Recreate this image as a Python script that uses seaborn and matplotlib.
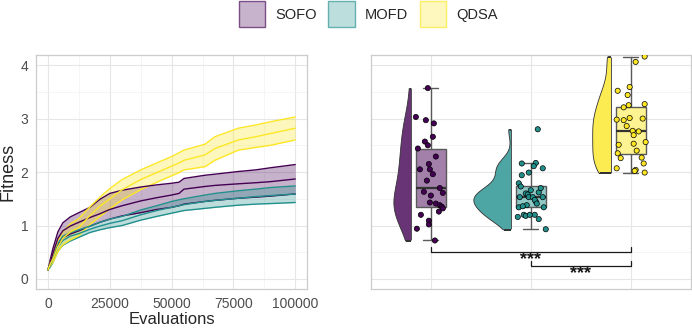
import numpy as np
import pandas as pd
import matplotlib
matplotlib.use("Agg")
import matplotlib.pyplot as plt
import matplotlib.colors as mcolors
from matplotlib.patches import Patch
from matplotlib.path import Path
from matplotlib.transforms import Affine2D
from matplotlib.ticker import MultipleLocator, NullFormatter
import seaborn as sns

methods = ["SOFO", "MOFD", "QDSA"]
colors = ["#440154", "#21908C", "#FDE725"]

# convergence curves (mean and ribbon bounds)
evals = [0, 1000, 2000, 4000, 6000, 9000, 12500, 17000, 21000, 25000, 30000,
         37500, 44000, 50000, 53000, 55000, 63500, 67500, 77000, 84000, 90000, 100000]
sofo_mean = [0.17, 0.33, 0.48, 0.76, 0.90, 0.99, 1.06, 1.15, 1.22, 1.30, 1.37,
             1.46, 1.52, 1.57, 1.60, 1.68, 1.73, 1.75, 1.78, 1.80, 1.82, 1.87]
sofo_lo = [0.17, 0.29, 0.40, 0.64, 0.77, 0.84, 0.90, 0.99, 1.06, 1.12, 1.18,
           1.24, 1.30, 1.34, 1.37, 1.40, 1.45, 1.47, 1.51, 1.53, 1.55, 1.59]
sofo_hi = [0.17, 0.38, 0.57, 0.88, 1.05, 1.16, 1.24, 1.34, 1.49, 1.60, 1.66,
           1.72, 1.76, 1.79, 1.81, 1.88, 1.94, 1.96, 2.01, 2.04, 2.08, 2.14]
mofd_mean = [0.17, 0.27, 0.37, 0.60, 0.72, 0.80, 0.85, 0.93, 0.99, 1.04, 1.09,
             1.20, 1.28, 1.34, 1.37, 1.39, 1.45, 1.47, 1.51, 1.54, 1.56, 1.59]
mofd_lo = [0.17, 0.23, 0.31, 0.52, 0.63, 0.71, 0.78, 0.87, 0.92, 0.96, 1.00,
           1.10, 1.17, 1.23, 1.26, 1.28, 1.32, 1.34, 1.38, 1.40, 1.41, 1.43]
mofd_hi = [0.17, 0.30, 0.43, 0.67, 0.80, 0.87, 0.92, 0.99, 1.06, 1.12, 1.17,
           1.29, 1.37, 1.45, 1.48, 1.50, 1.57, 1.60, 1.65, 1.68, 1.71, 1.74]
qdsa_mean = [0.17, 0.29, 0.37, 0.60, 0.76, 0.88, 0.96, 1.19, 1.36, 1.50, 1.67,
             1.86, 1.99, 2.11, 2.17, 2.22, 2.32, 2.44, 2.60, 2.66, 2.72, 2.82]
qdsa_lo = [0.17, 0.25, 0.31, 0.51, 0.64, 0.73, 0.81, 1.02, 1.17, 1.31, 1.48,
           1.67, 1.81, 1.93, 1.99, 2.04, 2.10, 2.22, 2.41, 2.46, 2.50, 2.60]
qdsa_hi = [0.17, 0.33, 0.46, 0.72, 0.88, 1.03, 1.13, 1.35, 1.53, 1.69, 1.86,
           2.04, 2.17, 2.29, 2.36, 2.41, 2.52, 2.66, 2.82, 2.88, 2.94, 3.03]

# final fitness per run, with the horizontal jitter seen in the picture
sofo_final = [3.57, 3.03, 2.97, 2.91, 2.66, 2.57, 2.50, 2.44, 2.29, 2.15, 2.05, 2.05,
              1.96, 1.84, 1.70, 1.63, 1.61, 1.56, 1.43, 1.41, 1.38, 1.35, 1.32, 1.26,
              1.20, 1.09, 1.02, 0.94, 0.72]
sofo_jit = [-0.03, -0.15, -0.05, 0.03, 0.02, -0.06, -0.03, -0.13, 0.05, -0.02, -0.11, -0.01,
            0.02, -0.04, 0.09, -0.07, 0.12, 0.00, -0.01, 0.05, 0.09, 0.11, 0.12, 0.08,
            -0.10, -0.02, -0.02, -0.14, 0.04]
mofd_final = [2.80, 2.16, 2.17, 2.11, 2.07, 1.94, 1.99, 1.79, 1.60, 1.58, 1.53, 1.53,
              1.53, 1.53, 1.45, 1.34, 1.34, 1.48, 1.16, 1.20, 1.18, 1.20, 1.20, 1.12,
              0.93, 1.73, 1.62, 1.66, 1.70, 1.38, 1.41, 1.36]
mofd_jit = [0.07, -0.09, 0.05, 0.03, 0.12, -0.09, -0.02, -0.12, -0.05, -0.03, -0.11, -0.02,
            0.02, 0.12, 0.05, -0.12, 0.13, 0.04, -0.13, -0.07, -0.05, -0.01, 0.04, 0.08,
            0.15, -0.10, 0.08, 0.00, 0.10, -0.04, 0.06, -0.08]
qdsa_final = [4.16, 4.06, 3.59, 3.52, 3.44, 3.21, 3.25, 3.27, 2.98, 2.97, 3.01, 3.00,
              2.86, 2.77, 2.76, 2.69, 2.56, 2.53, 2.51, 2.35, 2.40, 2.27, 2.26, 2.16,
              2.07, 2.04, 2.02, 1.99]
qdsa_jit = [0.14, 0.05, -0.01, -0.13, -0.03, -0.07, -0.02, 0.14, -0.14, -0.07, -0.01, 0.12,
            -0.04, 0.02, 0.08, 0.03, 0.15, 0.03, -0.12, -0.13, 0.06, 0.11, -0.10, 0.13,
            -0.14, 0.05, 0.04, 0.14]

# significance brackets: (from, to, label)
comparisons = [("SOFO", "QDSA", "***"), ("MOFD", "QDSA", "***")]

# full width of each half violin (twice the drawn half)
violin_widths = {"SOFO": 0.35, "MOFD": 0.75, "QDSA": 0.37}


def blend(c, a):
    rgb = np.array(mcolors.to_rgb(c))
    return tuple(rgb * a + (1 - a))


curves = pd.concat([
    pd.DataFrame({"evals": evals, "method": "SOFO", "mean": sofo_mean, "lo": sofo_lo, "hi": sofo_hi}),
    pd.DataFrame({"evals": evals, "method": "MOFD", "mean": mofd_mean, "lo": mofd_lo, "hi": mofd_hi}),
    pd.DataFrame({"evals": evals, "method": "QDSA", "mean": qdsa_mean, "lo": qdsa_lo, "hi": qdsa_hi}),
], ignore_index=True)

finals = pd.concat([
    pd.DataFrame({"method": "SOFO", "value": sofo_final, "jit": sofo_jit}),
    pd.DataFrame({"method": "MOFD", "value": mofd_final, "jit": mofd_jit}),
    pd.DataFrame({"method": "QDSA", "value": qdsa_final, "jit": qdsa_jit}),
], ignore_index=True)
finals["pos"] = finals["method"].map({m: i + 1 for i, m in enumerate(methods)}).astype(float)
finals["vpos"] = finals["pos"] - 0.2
finals["px"] = finals["pos"] + finals["jit"]

sns.set_theme(style="white")
plt.rcParams["font.family"] = ["Liberation Sans", "DejaVu Sans"]

fig = plt.figure(figsize=(6.92, 3.28), dpi=100)
ax1 = fig.add_axes([0.052, 0.119, 0.392, 0.713])
ax2 = fig.add_axes([0.536, 0.119, 0.462, 0.713])

pal = dict(zip(methods, colors))
ylim = (-0.187, 4.187)

# ---- left panel: convergence
for m in methods:
    sub = curves[curves["method"] == m]
    ax1.fill_between(sub["evals"], sub["lo"], sub["hi"], color=pal[m], alpha=0.3, lw=0, zorder=2)
for col in ["lo", "hi", "mean"]:
    sns.lineplot(data=curves, x="evals", y=col, hue="method", hue_order=methods,
                 palette=pal, legend=False, lw=1.0, ax=ax1, zorder=3)

ax1.set_xlim(-4858, 104858)
ax1.set_ylim(*ylim)
ax1.xaxis.set_major_locator(MultipleLocator(25000))
ax1.xaxis.set_minor_locator(MultipleLocator(12500))
ax1.yaxis.set_major_locator(MultipleLocator(1))
ax1.yaxis.set_minor_locator(MultipleLocator(0.5))
ax1.set_xlabel("Evaluations", fontsize=12, labelpad=1)
ax1.set_ylabel("Fitness", fontsize=13, labelpad=3)
ax1.tick_params(which="major", length=3, color="#b3b3b3", width=0.8,
                labelsize=10, labelcolor="#4d4d4d", pad=2.5)
ax1.tick_params(which="minor", length=0)

# ---- right panel: final fitness, half violins clipped to the left side
for m in methods:
    sub = finals[finals["method"] == m]
    v = sub["vpos"].iloc[0]
    n_before = len(ax2.collections)
    sns.violinplot(data=sub, x="vpos", y="value", native_scale=True,
                   color=blend(pal[m], 0.8), cut=0, inner=None, density_norm="width",
                   width=violin_widths[m], bw_adjust=0.85, linecolor="#333333",
                   linewidth=0.6, saturation=1, ax=ax2)
    clip = Path.unit_rectangle().transformed(Affine2D().scale(0.6, 10).translate(v - 0.6, -3))
    for coll in ax2.collections[n_before:]:
        coll.set_clip_path(clip, ax2.transData)
        coll.set_zorder(1)
    ax2.vlines(v, sub["value"].min(), sub["value"].max(), color="#333333", lw=0.6, zorder=1.5)

sns.boxplot(data=finals, x="pos", y="value", hue="method", hue_order=methods,
            palette={m: blend(c, 0.5) for m, c in pal.items()}, native_scale=True,
            dodge=False, width=0.3, showfliers=False, saturation=1,
            linecolor="#595959", linewidth=1.0,
            medianprops=dict(color="#333333", linewidth=1.6),
            legend=False, ax=ax2)

sns.scatterplot(data=finals, x="px", y="value", hue="method", hue_order=methods,
                palette=pal, edgecolor="black", linewidth=0.5, s=14,
                legend=False, ax=ax2, zorder=5)

pos_of = {m: i + 1 for i, m in enumerate(methods)}
bracket_y = [0.51, 0.25]
for (a, b, lab), yb in zip(comparisons, bracket_y):
    xa, xb = pos_of[a], pos_of[b]
    ax2.plot([xa, xa, xb, xb], [yb + 0.095, yb, yb, yb + 0.095], color="#1a1a1a", lw=0.9, zorder=6)
    ax2.text((xa + xb) / 2, yb - 0.15, lab, ha="center", va="center",
             fontsize=13, fontweight="bold", color="#1a1a1a")

ax2.set_xlim(0.4, 3.6)
ax2.set_ylim(*ylim)
ax2.xaxis.set_major_locator(MultipleLocator(1))
ax2.yaxis.set_major_locator(MultipleLocator(1))
ax2.yaxis.set_minor_locator(MultipleLocator(0.5))
ax2.xaxis.set_major_formatter(NullFormatter())
ax2.yaxis.set_major_formatter(NullFormatter())
ax2.set_xlabel("")
ax2.set_ylabel("")
ax2.tick_params(which="both", length=0)

for ax in (ax1, ax2):
    ax.grid(which="major", color="#e6e6e6", lw=0.8)
    ax.grid(which="minor", color="#f2f2f2", lw=0.5)
    ax.set_axisbelow(True)
    for s in ax.spines.values():
        s.set_color("#cccccc")
        s.set_linewidth(0.9)
ax2.xaxis.grid(which="minor", visible=False)

handles = [Patch(facecolor=blend(c, 0.3), edgecolor=blend(c, 0.7), lw=1.0) for c in colors]
fig.legend(handles, methods, loc="upper center", bbox_to_anchor=(0.532, 1.0), ncol=3,
           frameon=False, fontsize=10.5, handlelength=1.8, handleheight=2.36,
           handletextpad=0.7, columnspacing=0.8, borderaxespad=0.0, borderpad=0.1)

fig.savefig("out.png", dpi=100)
